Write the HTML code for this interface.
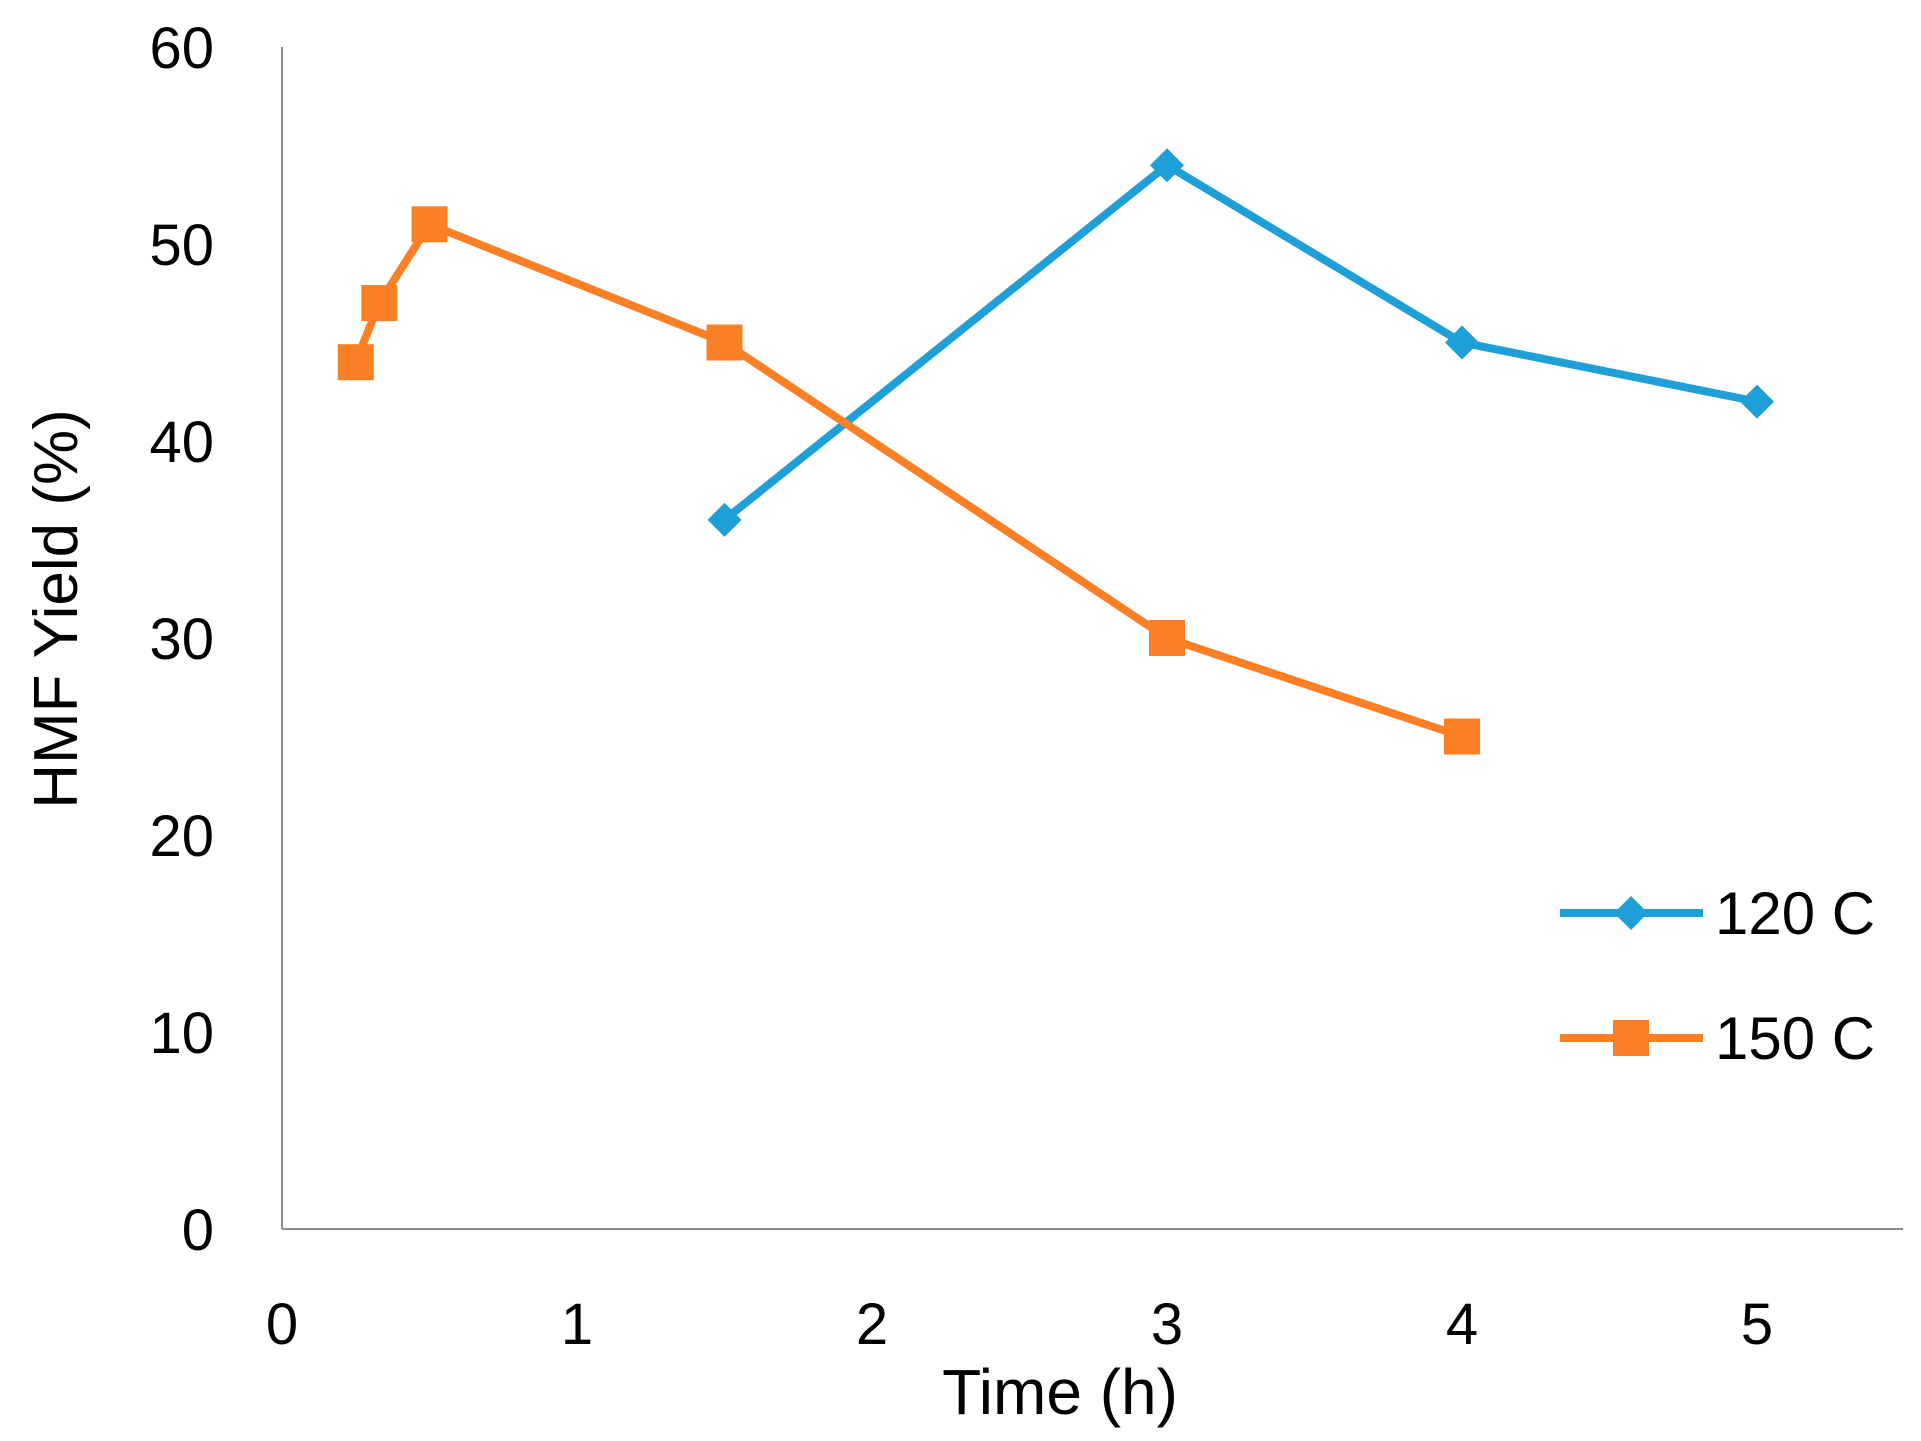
<!DOCTYPE html>
<html><head><meta charset="utf-8"><style>
html,body{margin:0;padding:0;background:#fff;}
svg{display:block;font-family:"Liberation Sans",sans-serif;}
</style></head><body>
<svg id="chart" width="1921" height="1441" viewBox="0 0 1921 1441">
<g id="axes"></g>
<g id="series"></g>
<g id="legend"></g>
</svg>
<script>
const xTicks = [0,1,2,3,4,5];
const yTicks = [0,10,20,30,40,50,60];
const seriesNames = ["120 C","150 C"];
const x120 = [1.5,3,4,5];
const y120 = [36,54,45,42];
const x150 = [0.25,0.33,0.5,1.5,3,4];
const y150 = [44,47,51,45,30,25];

const NS="http://www.w3.org/2000/svg";
const X0=282, XS=240.8*1.2251, Y0=1229, YS=160.8*1.2251/10;
const sx=v=>X0+v*XS, sy=v=>Y0-v*YS;
function mk(tag,attrs,parent,text){const e=document.createElementNS(NS,tag);for(const k in attrs)e.setAttribute(k,attrs[k]);if(text!==undefined)e.textContent=text;parent.appendChild(e);return e;}
const axes=document.getElementById('axes'),ser=document.getElementById('series'),leg=document.getElementById('legend');
let a=mk('line',{x1:X0,y1:sy(60),x2:X0,y2:Y0,stroke:'#8c8c8c','stroke-width':2},axes);


a=mk('line',{x1:X0,y1:Y0,x2:1903,y2:Y0,stroke:'#8c8c8c','stroke-width':2},axes);


yTicks.forEach(v=>{const t=mk('text',{x:214,y:sy(v)+21,'text-anchor':'end','font-size':58,fill:'#000'},axes,String(v));

});
xTicks.forEach(v=>{const t=mk('text',{x:sx(v),y:1344,'text-anchor':'middle','font-size':58,fill:'#000'},axes,String(v));

});
let t=mk('text',{x:1060,y:1414,'text-anchor':'middle','font-size':64,fill:'#000'},axes,'Time (h)');


t=mk('text',{x:0,y:0,'text-anchor':'middle','font-size':62,fill:'#000',transform:'translate(77,609) rotate(-90)'},axes,'HMF Yield (%)');


function diamond(cx,cy,p,c){const r=17;const d=mk('polygon',{points:`${cx},${cy-r} ${cx+r},${cy} ${cx},${cy+r} ${cx-r},${cy}`,fill:c},p);return d;}
function square(cx,cy,p,c){const r=18;return mk('rect',{x:cx-r,y:cy-r,width:2*r,height:2*r,fill:c},p);}
function draw(xs,ys,c,m,name){
  const g=mk('g',{},ser);
  
  
  const l=mk('polyline',{points:xs.map((x,i)=>sx(x)+','+sy(ys[i])).join(' '),fill:'none',stroke:c,'stroke-width':8,'stroke-linejoin':'round'},g);
  
  
  xs.forEach((x,i)=>{const e=m(sx(x),sy(ys[i]),g,c);
  
  });
}
draw(x120,y120,'#1f9fd8',diamond,'series-120c');
draw(x150,y150,'#fb7f24',square,'series-150c');
[[913,'#1f9fd8',diamond],[1038,'#fb7f24',square]].forEach((d,i)=>{
  const g=mk('g',{},leg);
  
  
  mk('line',{x1:1560,y1:d[0],x2:1703,y2:d[0],stroke:d[1],'stroke-width':8},g);
  d[2](1631,d[0],g,d[1]);
  mk('text',{x:1715,y:d[0]+21,'font-size':60,fill:'#000'},g,seriesNames[i]);
});
</script>
</body></html>
